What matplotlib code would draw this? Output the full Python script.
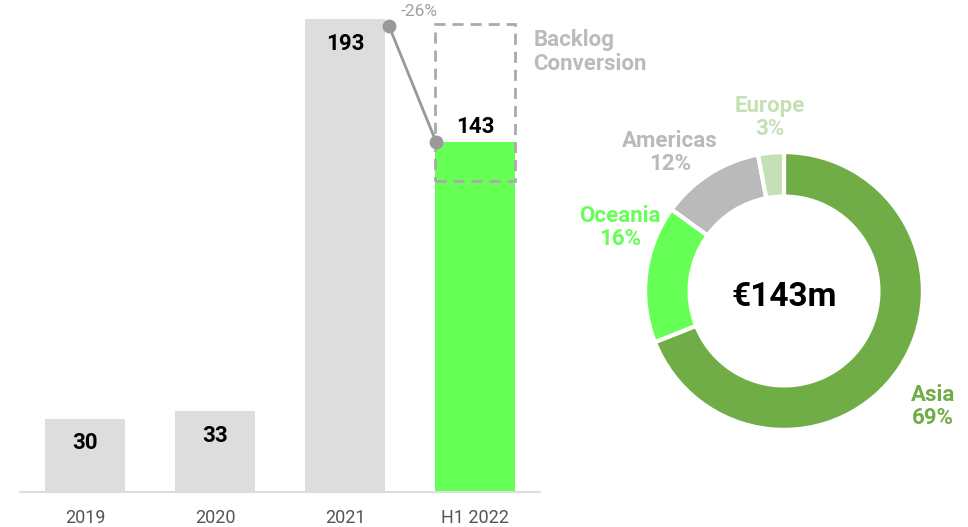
import matplotlib.pyplot as plt
from matplotlib.patches import Rectangle

plt.rcParams['font.family'] = ['Roboto', 'DejaVu Sans']

# order intake by period (EUR m)
periods = ['2019', '2020', '2021', 'H1 2022']
order_intake = [30, 33, 193, 143]
bar_colors = ['#dddddd', '#dddddd', '#dddddd', '#66ff55']
change_label = '-26%'
backlog_range = [127, 191]

# H1 2022 split by region
regions = ['Asia', 'Oceania', 'Americas', 'Europe']
region_share = [69, 16, 12, 3]
region_colors = ['#70ad47', '#66ff55', '#bababa', '#c5e0b4']
total_label = '€143m'

fig = plt.figure(figsize=(9.68, 5.27), dpi=100)

# ---- bar chart ----
ax = fig.add_axes([20 / 968, 35 / 527, 520 / 968, 490 / 527])
x = range(len(periods))
bars = ax.bar(x, order_intake, width=0.62, color=bar_colors, zorder=2)
ax.set_xlim(-0.5, 3.5)
ax.set_ylim(0, 200)
ax.set_xticks(list(x))
ax.set_xticklabels(periods, fontsize=13, color='#555555')
ax.tick_params(axis='x', length=0, pad=12)
ax.set_yticks([])
for s in ['top', 'right', 'left']:
    ax.spines[s].set_visible(False)
ax.spines['bottom'].set_color('#dddddd')
ax.spines['bottom'].set_linewidth(1.5)

# value labels
for i, v in enumerate(order_intake):
    if i == 3:
        ax.text(i, v + 3.5, str(v), ha='center', va='baseline', fontsize=16,
                fontweight='bold', color='black')
    else:
        ax.text(i, v - 12.5, str(v), ha='center', va='baseline', fontsize=16,
                fontweight='bold', color='black')

# backlog conversion box
ax.add_patch(Rectangle((3 - 0.31, backlog_range[0]), 0.62,
                       backlog_range[1] - backlog_range[0], fill=False,
                       edgecolor='#aaaaaa', linestyle=(0, (4, 2.5)), lw=2, zorder=3))
ax.text(3.45, 189, 'Backlog\nConversion', ha='left', va='top',
        fontsize=16, fontweight='bold', color='#bbbbbb', linespacing=1.1,
        clip_on=False)

# change connector
ax.plot([2.34, 2.7], [order_intake[2] - 3, order_intake[3]], color='#999999',
        lw=2, marker='o', markersize=9, zorder=4, clip_on=False)
ax.text(2.57, 196, change_label, ha='center', va='center',
        fontsize=12.5, color='#a0a0a0', clip_on=False)

# ---- donut ----
ax2 = fig.add_axes([634 / 968, 86 / 527, 300 / 968, 300 / 527])
ax2.pie(region_share, colors=region_colors, startangle=90, counterclock=False,
        radius=1, wedgeprops=dict(width=0.32, edgecolor='white', linewidth=3))
ax2.set_xlim(-1.08, 1.08)
ax2.set_ylim(-1.08, 1.08)
ax2.set_aspect('equal')
ax2.axis('off')
ax2.text(0, -0.04, total_label, ha='center', va='center', fontsize=24,
         fontweight='bold', color='black')

label_pos = [(1.07, -0.83), (-1.18, 0.46), (-0.82, 1.0), (-0.10, 1.25)]
for name, share, col, (lx, ly) in zip(regions, region_share, region_colors, label_pos):
    ax2.text(lx, ly, f'{name}\n{share}%', ha='center', va='center', fontsize=16,
             fontweight='bold', color=col, linespacing=1.05, clip_on=False)

fig.savefig('out.png', dpi=100)
